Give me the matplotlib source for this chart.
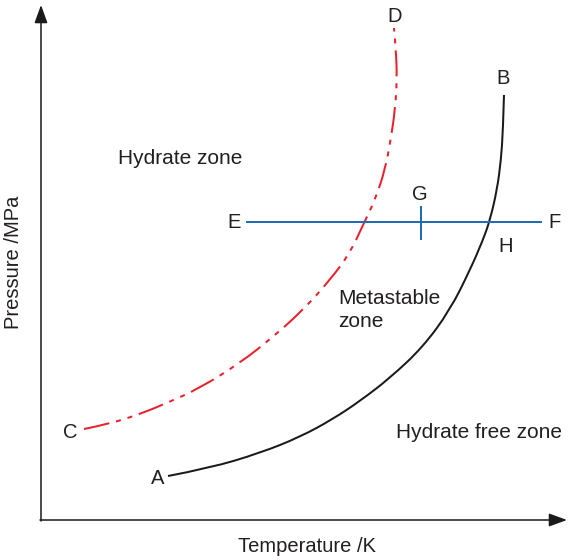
import matplotlib
matplotlib.use("Agg")
import matplotlib.pyplot as plt
from matplotlib.path import Path
from matplotlib.patches import PathPatch

plt.rcParams['font.family'] = ['Liberation Sans', 'DejaVu Sans']
plt.rcParams['lines.scale_dashes'] = False

# Schematic curves (x = temperature position, y = pressure position, drawing units)
curve_ab_x = [168, 210, 260, 300, 333, 360, 390, 423, 450, 470, 483, 490, 497, 501, 503, 504]
curve_ab_y = [476, 468, 453, 437, 419, 401, 378, 347, 310, 270, 240, 220, 190, 160, 130, 95]

curve_cd_x = [84, 109, 140, 167, 200, 240, 273, 303, 330, 350, 363, 375, 385, 391, 395, 397, 396, 394]
curve_cd_y = [429, 424, 414, 403, 388, 363, 337, 310, 280, 253, 225, 200, 170, 138, 110, 80, 50, 28]

line_ef_x = [246, 542]
line_ef_y = [222, 222]
tick_g_x = [421, 421]
tick_g_y = [206, 240]

point_labels = ['A', 'B', 'C', 'D', 'E', 'F', 'G', 'H']
point_label_x = [158, 503, 70, 395, 234, 554, 420, 506]
point_label_y = [478, 79, 432, 17, 222, 222, 194, 246]

zone_texts = ['Hydrate zone', 'Metastable\nzone', 'Hydrate free zone']
zone_x = [118, 338, 396]
zone_y = [158, 310, 432]

xlabel = 'Temperature /K'
ylabel = 'Pressure /MPa'

txt = '#231f20'


def smooth_path(xs, ys):
    pts = list(zip(xs, ys))
    verts = [pts[0]]
    codes = [Path.MOVETO]
    n = len(pts)
    for i in range(1, n - 1):
        ctrl = pts[i]
        if i == n - 2:
            end = pts[n - 1]
        else:
            end = ((pts[i][0] + pts[i + 1][0]) / 2, (pts[i][1] + pts[i + 1][1]) / 2)
        verts += [ctrl, end]
        codes += [Path.CURVE3, Path.CURVE3]
    return Path(verts, codes)


fig = plt.figure(figsize=(5.68, 5.60), dpi=100)
ax = fig.add_axes([0, 0, 1, 1])
ax.set_xlim(0, 568)
ax.set_ylim(560, 0)
ax.axis('off')

# axes arrows
ax.annotate('', xy=(41, 5), xytext=(41, 521),
            arrowprops=dict(arrowstyle='-|>,head_length=0.55,head_width=0.2',
                            mutation_scale=20, lw=1.1, color='#1a1a1a',
                            shrinkA=0, shrinkB=0))
ax.annotate('', xy=(567, 520), xytext=(40, 520),
            arrowprops=dict(arrowstyle='-|>,head_length=0.55,head_width=0.2',
                            mutation_scale=20, lw=1.1, color='#1a1a1a',
                            shrinkA=0, shrinkB=0))

# curves
ax.add_patch(PathPatch(smooth_path(curve_ab_x, curve_ab_y), fill=False,
                       edgecolor='#1a1a1a', lw=1.45, capstyle='butt'))
ax.add_patch(PathPatch(smooth_path(curve_cd_x, curve_cd_y), fill=False,
                       edgecolor='#e8222c', lw=1.45, capstyle='butt',
                       linestyle=(0, (18.7, 5.0, 3.6, 5.0, 3.6, 5.0))))
ax.plot(line_ef_x, line_ef_y, color='#1f6db3', lw=1.45, solid_capstyle='butt')
ax.plot(tick_g_x, tick_g_y, color='#1f6db3', lw=1.45, solid_capstyle='butt')

for lab, x, y in zip(point_labels, point_label_x, point_label_y):
    ax.text(x, y, lab, fontsize=14.5, color=txt, ha='center', va='center')

for t, x, y in zip(zone_texts, zone_x, zone_y):
    ax.text(x, y, t, fontsize=15, color=txt, ha='left', va='center', linespacing=1.3)

ax.text(307, 547, xlabel, fontsize=14.5, color=txt, ha='center', va='center')
ax.text(14, 262, ylabel, fontsize=14.5, color=txt, ha='center', va='center', rotation=90)

fig.savefig('out.png', dpi=100)
